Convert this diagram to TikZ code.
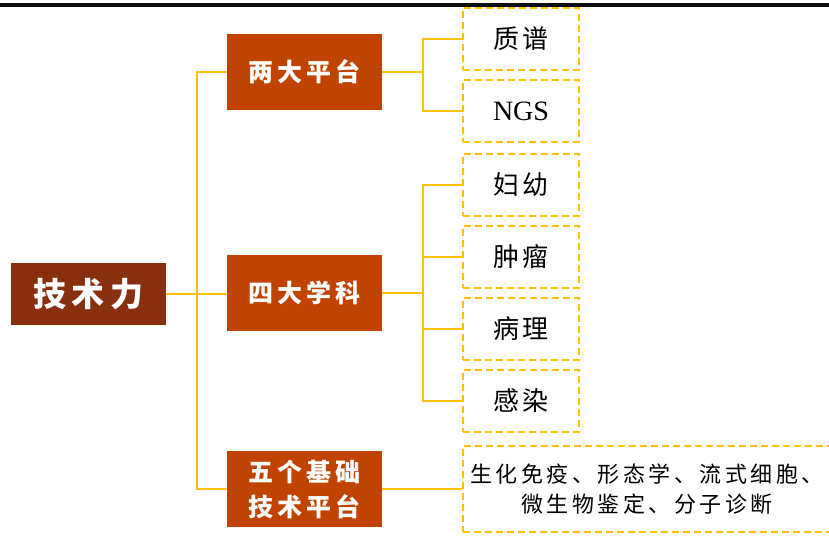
\documentclass[tikz,border=0pt]{standalone}
\usepackage{fontspec}
\setmainfont{Liberation Serif}
\newfontfamily\cjk{Noto Sans CJK SC}
\definecolor{rootc}{HTML}{88300E}
\definecolor{midc}{HTML}{C04400}
\definecolor{gold}{HTML}{FFC000}
\newcommand\gA{\hspace{6pt}}
\newcommand\gB{\hspace{4pt}}
\newcommand\gC{\hspace{4pt}}
\newcommand\gD{\hspace{3.5pt}}
\tikzset{
  rootbox/.style={fill=rootc, text=white, font=\cjk\bfseries\fontsize{33}{36}\selectfont,
    minimum width=155pt, minimum height=62pt, inner sep=0pt},
  midbox/.style={fill=midc, text=white, font=\cjk\bfseries\fontsize{25}{35}\selectfont,
    minimum width=155pt, minimum height=76pt, inner sep=0pt, align=center},
  leafbox/.style={draw=gold, line width=1.3pt, dash pattern=on 7pt off 4pt,
    minimum width=116pt, minimum height=62pt, inner sep=0pt,
    font=\cjk\fontsize{26}{30}\selectfont},
  conn/.style={draw=gold, line width=1.6pt},
  trunk/.style={draw=gold, line width=1.2pt}
}
\begin{document}
\begin{tikzpicture}[x=1pt,y=-1pt]
\useasboundingbox (0,0) rectangle (829,537);
\clip (0,0) rectangle (829,537);
\fill[black!95] (0,3) rectangle (829,7);
% nodes
\node[rootbox] (root) at (88.5,294) {技\gA 术\gA 力};
\node[midbox] (p1) at (304.5,72) {两\gB 大\gB 平\gB 台};
\node[midbox] (p2) at (304.5,293) {四\gB 大\gB 学\gB 科};
\node[midbox] (p3) at (304.5,489) {五\gB 个\gB 基\gB 础\\技\gB 术\gB 平\gB 台};
\node[leafbox] (l1) at (521,39) {质\gC 谱};
\node[leafbox, font=\fontsize{28}{30}\selectfont] (l2) at (521,111) {NGS};
\node[leafbox] (l3) at (521,185) {妇\gC 幼};
\node[leafbox] (l4) at (521,257) {肿\gC 瘤};
\node[leafbox] (l5) at (521,329) {病\gC 理};
\node[leafbox] (l6) at (521,401) {感\gC 染};
\node[leafbox, minimum width=368pt, minimum height=86pt, align=center,
  font=\cjk\fontsize{22}{30}\selectfont] (l7) at (647,489)
  {生\gD 化\gD 免\gD 疫\gD 、\gD 形\gD 态\gD 学\gD 、\gD 流\gD 式\gD 细\gD 胞\gD 、\\
   微\gD 生\gD 物\gD 鉴\gD 定\gD 、\gD 分\gD 子\gD 诊\gD 断};
% connectors
\coordinate (t) at (197,0);
\coordinate (b) at (423,0);
\draw[conn, line width=2pt] (root.east) -- (root.east -| p2.west);
\draw[trunk] (p1.west) -- (p1.west -| t) -- (p3.west -| t) -- (p3.west);
\draw[conn] (p1.east) -- (p1.east -| b);
\draw[conn] (l1.west) -- (l1.west -| b) -- (l2.west -| b) -- (l2.west);
\draw[conn] (p2.east) -- (p2.east -| b);
\draw[conn] (l3.west) -- (l3.west -| b) -- (l6.west -| b) -- (l6.west);
\draw[conn] (l4.west) -- (l4.west -| b);
\draw[conn] (l5.west) -- (l5.west -| b);
\draw[conn] (p3.east) -- (l7.west);
\end{tikzpicture}
\end{document}
